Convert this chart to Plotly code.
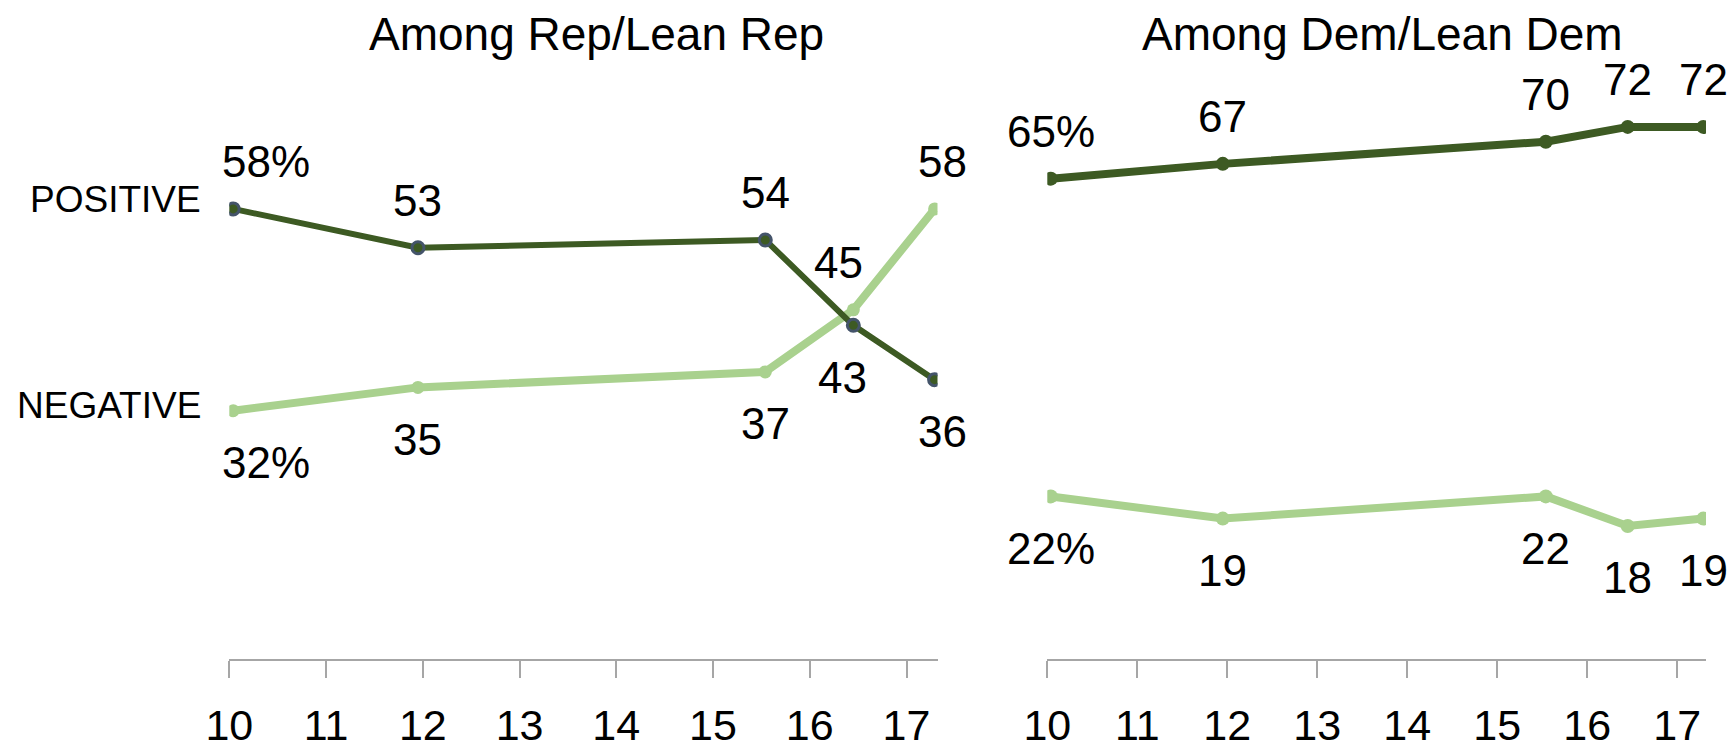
import plotly.graph_objects as go

# ---- data ----
x_years = [10.04, 11.95, 15.54, 16.45, 17.29]
rep_positive = [58, 53, 54, 43, 36]
rep_negative = [32, 35, 37, 45, 58]
dem_positive = [65, 67, 70, 72, 72]
dem_negative = [22, 19, 22, 18, 19]
tick_vals = [10, 11, 12, 13, 14, 15, 16, 17]
tick_text = ["10", "11", "12", "13", "14", "15", "16", "17"]
titles = ["Among Rep/Lean Rep", "Among Dem/Lean Dem"]
row_labels = ["POSITIVE", "NEGATIVE"]

W, H = 1734, 749
DARK = "#3d5a23"
LIGHT = "#a9d18e"
MARK_EDGE = "#44546a"
AXIS = "#a6a6a6"
FONT = "Liberation Sans, Arial, sans-serif"

fig = go.Figure()

fig.add_trace(go.Scatter(x=x_years, y=rep_negative, mode="lines+markers", xaxis="x", yaxis="y",
                         line=dict(color=LIGHT, width=8), marker=dict(color=LIGHT, size=13),
                         hoverinfo="skip", showlegend=False))
fig.add_trace(go.Scatter(x=x_years, y=rep_positive, mode="lines+markers", xaxis="x", yaxis="y",
                         line=dict(color=DARK, width=6),
                         marker=dict(color=DARK, size=12, line=dict(color=MARK_EDGE, width=3)),
                         hoverinfo="skip", showlegend=False))
fig.add_trace(go.Scatter(x=x_years, y=dem_negative, mode="lines+markers", xaxis="x2", yaxis="y2",
                         line=dict(color=LIGHT, width=8), marker=dict(color=LIGHT, size=14),
                         hoverinfo="skip", showlegend=False))
fig.add_trace(go.Scatter(x=x_years, y=dem_positive, mode="lines+markers", xaxis="x2", yaxis="y2",
                         line=dict(color=DARK, width=8), marker=dict(color=DARK, size=14),
                         hoverinfo="skip", showlegend=False))

# label placement: +1 above, -1 below ; extra x shifts (px)
UP, DOWN = 47, -52
def add_labels(vals, xref, yref, sides, xshifts, first_pct=True):
    for i, (xv, yv) in enumerate(zip(x_years, vals)):
        txt = f"{yv}%" if (i == 0 and first_pct) else f"{yv}"
        fig.add_annotation(x=xv, y=yv, xref=xref, yref=yref, text=txt, showarrow=False,
                           xanchor="center", yanchor="middle",
                           yshift=UP if sides[i] > 0 else DOWN, xshift=xshifts[i],
                           font=dict(family=FONT, size=44, color="#000000"))

add_labels(rep_positive, "x", "y", [1, 1, 1, -1, -1], [33, 0, 0, -11, 8])
add_labels(rep_negative, "x", "y", [-1, -1, -1, 1, 1], [33, 0, 0, -15, 8])
add_labels(dem_positive, "x2", "y2", [1, 1, 1, 1, 1], [0, 0, 0, 0, 0])
add_labels(dem_negative, "x2", "y2", [-1, -1, -1, -1, -1], [0, 0, 0, 0, 0])

# titles
for t, cx in zip(titles, [596, 1382]):
    fig.add_annotation(x=cx / W, y=1 - 34 / H, xref="paper", yref="paper", text=t, showarrow=False,
                       xanchor="center", yanchor="middle", font=dict(family=FONT, size=46, color="#000000"))
for t, cy in zip(row_labels, [199, 405]):
    fig.add_annotation(x=203 / W, y=1 - cy / H, xref="paper", yref="paper", text=t, showarrow=False,
                       xanchor="right", yanchor="middle", font=dict(family=FONT, size=37, color="#000000"))

y_dom = [(H - 659) / H, (H - 100) / H]
xaxis_common = dict(tickmode="array", tickvals=tick_vals, ticktext=tick_text, showgrid=False, zeroline=False,
                    showline=True, linecolor=AXIS, linewidth=1.5, ticks="outside", ticklen=17,
                    tickcolor=AXIS, tickwidth=1.5, tickfont=dict(family=FONT, size=43, color="#000000"),
                    ticklabelstandoff=11, automargin=False)
fig.update_layout(
    template=None,
    width=W, height=H, margin=dict(l=0, r=0, t=0, b=0, autoexpand=False),
    paper_bgcolor="white", plot_bgcolor="white",
    xaxis=dict(xaxis_common, domain=[229.3 / W, 937.5 / W], range=[10, 17.32], anchor="y"),
    yaxis=dict(domain=y_dom, range=[0, 559 / 7.76], visible=False, fixedrange=True, automargin=False),
    xaxis2=dict(xaxis_common, domain=[1047.3 / W, 1706 / W], range=[10, 17.32], anchor="y2"),
    yaxis2=dict(domain=y_dom, range=[0, 559 / 7.39], visible=False, fixedrange=True, automargin=False),
)

fig.write_html("out.html", config={"displayModeBar": False},
               post_script="document.body.style.margin='0';document.body.style.overflow='hidden';"
                           "document.documentElement.style.overflow='hidden';")
